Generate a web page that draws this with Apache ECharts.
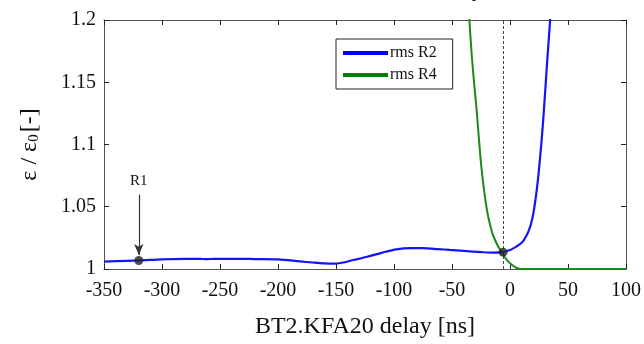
<!DOCTYPE html>
<html>
<head>
<meta charset="utf-8">
<script src="https://cdn.jsdelivr.net/npm/echarts@6/dist/echarts.min.js"></script>
<style>
  html, body { margin: 0; padding: 0; background: #fff; }
  #chart { width: 644px; height: 344px; }
</style>
</head>
<body>
<div id="chart"></div>
<script>
// Emittance growth vs. kicker delay
const r2Delay = [-350, -340, -320, -300, -280, -267, -262, -255, -239, -220, -200, -181, -170, -160, -152, -145, -135, -124, -110, -98, -85, -75, -62, -52, -40, -24, -14, -7, 0, 4, 8, 11, 14, 16, 18, 20, 22, 24, 26, 28, 30, 31, 32, 34, 35, 37];
const r2Value = [1.0060, 1.0063, 1.0069, 1.0078, 1.0082, 1.0082, 1.0079, 1.0082, 1.0082, 1.0080, 1.0077, 1.0061, 1.0052, 1.0045, 1.0043, 1.0050, 1.0072, 1.0096, 1.0132, 1.0158, 1.0167, 1.0167, 1.0160, 1.0153, 1.0145, 1.0135, 1.0131, 1.0135, 1.0152, 1.0172, 1.0195, 1.0220, 1.0265, 1.0305, 1.0360, 1.0440, 1.0560, 1.0710, 1.0900, 1.1120, 1.1380, 1.1520, 1.1660, 1.1920, 1.2050, 1.2350];

const r4Delay = [-40, -37, -35, -33, -31, -29, -27, -25, -23, -21, -19, -17, -15, -13, -11, -9, -7, -5, -3, -1, 1, 3, 5, 7, 9, 12, 20, 100];
const r4Value = [1.2800, 1.2350, 1.2000, 1.1720, 1.1500, 1.1300, 1.1070, 1.0850, 1.0680, 1.0540, 1.0430, 1.0350, 1.0280, 1.0235, 1.0195, 1.0162, 1.0135, 1.0102, 1.0076, 1.0055, 1.0038, 1.0024, 1.0012, 1.0004, 1.0001, 1.0000, 1.0000, 1.0000];

// Reference working points
const pointNames = ['R1', ''];
const pointDelay = [-320, -6];
const pointValue = [1.0068, 1.0135];
const optimumDelay = -6;

const xTicks = { min: -350, max: 100, step: 50 };
const yTicks = { min: 1, max: 1.2, step: 0.05 };

const serif = 'Liberation Serif';
const axisColor = '#555';

function pairs(xs, ys) { return xs.map((x, i) => [x, ys[i]]); }

const chart = echarts.init(document.getElementById('chart'));

const mirrorX = {
  type: 'value', min: xTicks.min, max: xTicks.max, interval: xTicks.step,
  axisLine: { show: true, onZero: false, lineStyle: { color: axisColor, width: 1 } },
  axisTick: { show: true, inside: true, length: 5, lineStyle: { color: '#222' } },
  splitLine: { show: false }
};
const mirrorY = {
  type: 'value', min: yTicks.min, max: yTicks.max, interval: yTicks.step,
  axisLine: { show: true, onZero: false, lineStyle: { color: axisColor, width: 1 } },
  axisTick: { show: true, inside: true, length: 5, lineStyle: { color: '#222' } },
  splitLine: { show: false }
};

chart.setOption({
  animation: false,
  backgroundColor: '#fff',
  grid: { left: 104, right: 17, top: 20, bottom: 72 },
  legend: {
    orient: 'vertical',
    left: 336, top: 39,
    padding: [6, 16, 6, 7],
    itemGap: 6,
    itemWidth: 45, itemHeight: 4,
    icon: 'rect',
    borderColor: '#222', borderWidth: 1,
    backgroundColor: '#fff',
    textStyle: { fontFamily: serif, fontSize: 16, color: '#111', padding: [0, 0, 0, -3] },
    data: ['rms R2', 'rms R4']
  },
  xAxis: [
    Object.assign({}, mirrorX, {
      position: 'bottom',
      name: 'BT2.KFA20 delay [ns]',
      nameLocation: 'middle',
      nameGap: 46,
      nameTextStyle: { fontFamily: serif, fontSize: 24, color: '#111' },
      axisLabel: { fontFamily: serif, fontSize: 20, color: '#111', margin: 12 }
    }),
    Object.assign({}, mirrorX, { position: 'top', axisLabel: { show: false } })
  ],
  yAxis: [
    Object.assign({}, mirrorY, {
      position: 'left',
      name: '{a|ε / ε}{s|0}{a|[-]}',
      nameLocation: 'middle',
      nameGap: 62,
      nameRotate: 90,
      nameTextStyle: {
        rich: {
          a: { fontFamily: serif, fontSize: 24, color: '#111', lineHeight: 28, verticalAlign: 'bottom' },
          s: { fontFamily: serif, fontSize: 15, color: '#111', lineHeight: 28, verticalAlign: 'bottom', padding: [0, 2, 0, 0] }
        }
      },
      axisLabel: {
        fontFamily: serif, fontSize: 20, color: '#111', margin: 8,
        formatter: v => String(+v.toFixed(2))
      }
    }),
    Object.assign({}, mirrorY, { position: 'right', axisLabel: { show: false } })
  ],
  graphic: [{
    type: 'text',
    right: 117, top: -22,
    style: { text: 'delay [ns]', font: '24px "Liberation Serif"', fill: '#111' },
    silent: true
  }],
  series: [
    {
      name: 'rms R2', type: 'line',
      data: pairs(r2Delay, r2Value),
      smooth: 0.3,
      showSymbol: false, symbol: 'none',
      clip: true,
      color: '#0000ff',
      lineStyle: { color: '#1414f5', width: 2.2 },
      z: 3
    },
    {
      name: 'rms R4', type: 'line',
      data: pairs(r4Delay, r4Value),
      smooth: 0.3,
      showSymbol: false, symbol: 'none',
      clip: true,
      color: '#008000',
      lineStyle: { color: '#1b8a1b', width: 2 },
      z: 2,
      markLine: {
        silent: true,
        symbol: ['none', 'none'],
        label: { show: false },
        lineStyle: { color: '#444', type: [3, 2], width: 1 },
        data: [{ xAxis: optimumDelay }]
      }
    },
    {
      name: 'points', type: 'scatter',
      data: pairs(pointDelay, pointValue),
      symbolSize: 9,
      itemStyle: { color: '#222' },
      z: 5,
      markLine: {
        silent: true,
        symbol: ['none', 'arrow'],
        symbolSize: [7, 11],
        lineStyle: { color: '#333', type: 'solid', width: 1.2 },
        label: {
          show: true, position: 'start', distance: 6,
          formatter: pointNames[0],
          fontFamily: serif, fontSize: 15, color: '#111'
        },
        data: [[
          { coord: [pointDelay[0], 1.0598] },
          { coord: [pointDelay[0], 1.0112] }
        ]]
      }
    }
  ]
});
</script>
</body>
</html>
